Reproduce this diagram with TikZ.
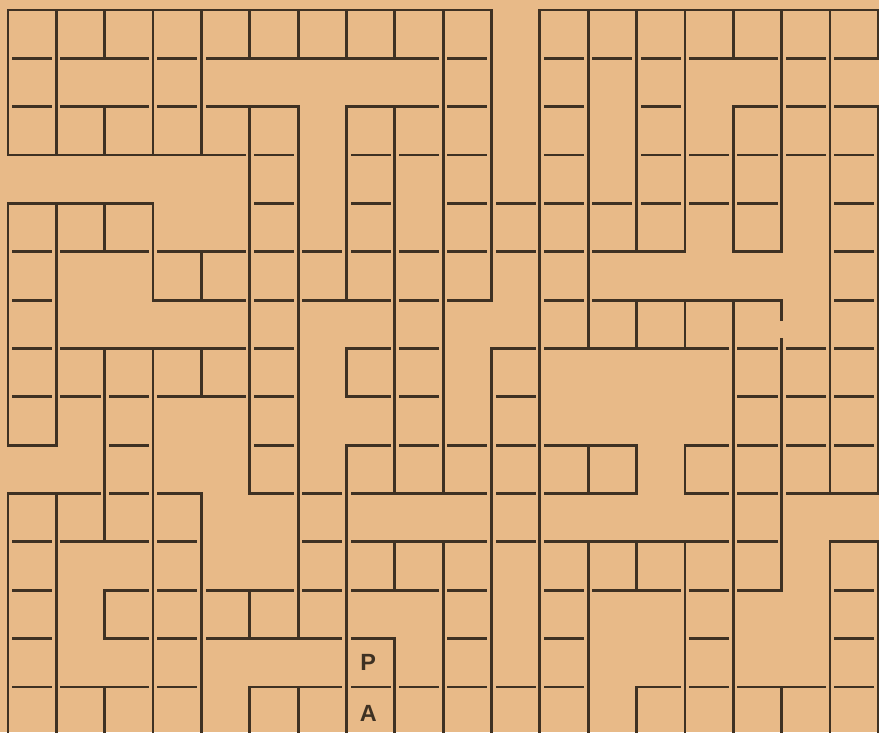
\documentclass[tikz,border=0pt]{standalone}
\usepackage{fontspec}
\newfontfamily\labelfont{Liberation Sans}
\usepackage{xcolor}
\definecolor{paper}{RGB}{232,186,136}
\definecolor{ink}{RGB}{62,49,35}
\begin{document}
\begin{tikzpicture}[x=1.4505cm, y=-1.4505cm,
    wall/.style={ink, line width=2.4pt, line cap=rect},
    vwall/.style={wall, preaction={draw=paper, line width=7pt, line cap=butt, shorten <=3pt, shorten >=3pt}},
    letter/.style={ink, font=\labelfont\bfseries\fontsize{20}{24}\selectfont}]

% paper
\useasboundingbox (-0.1655,-0.2068) rectangle (18.014,14.933);
\clip (-0.1655,-0.2068) rectangle (18.014,14.933);
\fill[paper] (-0.1655,-0.2068) rectangle (18.014,14.933);

% horizontal walls (row line / from / to)
\foreach \y/\a/\b in {0/0/10, 0/11/18,
    1/0/10, 1/11/18,
    2/0/6, 2/7/10, 2/11/12, 2/13/14, 2/15/18,
    3/0/6, 3/7/10, 3/11/12, 3/13/18,
    4/0/3, 4/5/6, 4/7/8, 4/9/16, 4/17/18,
    5/0/14, 5/15/16, 5/17/18,
    6/0/1, 6/3/10, 6/11/16, 6/17/18,
    7/0/6, 7/7/9, 7/10/18,
    8/0/6, 8/7/9, 8/10/11, 8/15/18,
    9/0/1, 9/2/3, 9/5/6, 9/7/13, 9/14/18,
    10/0/4, 10/5/13, 10/14/18,
    11/0/4, 11/6/16, 11/17/18,
    12/0/1, 12/2/10, 12/11/16, 12/17/18,
    13/0/1, 13/2/8, 13/9/10, 13/11/12, 13/14/15, 13/17/18,
    14/0/4, 14/5/12, 14/13/18} {
    \draw[wall] (\a,\y) -- (\b,\y);
}

% vertical walls (column line / from / to)
\foreach \x/\a/\b in {0/0/3, 0/4/9, 0/10/15,
    1/0/3, 1/4/9, 1/10/15,
    2/0/1, 2/2/3, 2/4/5, 2/7/11, 2/12/13, 2/14/15,
    3/0/3, 3/4/6, 3/7/15,
    4/0/3, 4/5/6, 4/7/8, 4/10/15,
    5/0/1, 5/2/10, 5/12/13, 5/14/15,
    6/0/1, 6/2/13, 6/14/15,
    7/0/1, 7/2/6, 7/7/8, 7/9/15,
    8/0/1, 8/2/10, 8/11/12, 8/13/15,
    9/0/10, 9/11/15,
    10/0/6, 10/7/15,
    11/0/15,
    12/0/7, 12/9/10, 12/11/15,
    13/0/5, 13/6/7, 13/9/10, 13/11/12, 13/14/15,
    14/0/5, 14/6/7, 14/9/10, 14/11/15,
    15/0/1, 15/2/5, 15/6/15,
    16/0/5, 16/6/6.41, 16/6.81/12, 16/14/15,
    17/0/10, 17/11/15,
    18/0/1, 18/2/10, 18/11/15} {
    \draw[vwall] (\x,\a) -- (\x,\b);
}

% letters
\node[letter] (p) at (7.45, 13.49) {P};
\node[letter] (a) at (7.45, 14.54) {A};

\end{tikzpicture}
\end{document}
